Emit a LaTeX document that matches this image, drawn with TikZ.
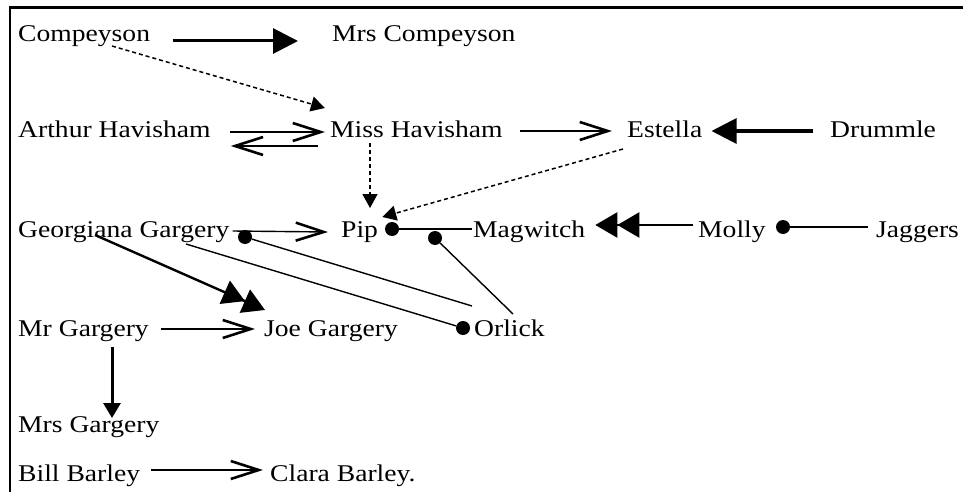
\documentclass[tikz,border=0pt]{standalone}
\usepackage{fontspec}
\setmainfont{Liberation Serif}[FakeStretch=1.15]
\usetikzlibrary{arrows.meta,calc}

\begin{document}
\begin{tikzpicture}[x=1pt,y=-1pt,
    lbl/.style={anchor=base west,inner sep=0pt,font=\fontsize{24}{28}\selectfont},
    dot/.style={circle,fill=black,inner sep=0pt,minimum size=14pt},
    thin/.style={line width=1.4pt},
    open/.style={thin,-{Straight Barb[length=28pt,width=18pt,line width=2.6pt]}},
    heavy/.style={line width=3pt,-{Triangle[length=25pt,width=25pt]}},
    hint/.style={line width=1.5pt,dashed,dash pattern=on 4pt off 3pt,-{Triangle[length=14pt,width=15pt]}},
    twin/.style={line width=2.4pt,-{Triangle[length=22pt,width=25pt]Triangle[length=22pt,width=25pt]}}]
    \useasboundingbox (0,0) rectangle (963,492);
    \draw[line width=2.5pt] (963,7.5) -- (10,7.5) -- (10,492);

    \node (comp) at (18,42) [lbl] {Compeyson};
    \node (mrscomp) at (332,42) [lbl] {Mrs Compeyson};
    \node (arthur) at (18,138) [lbl] {Arthur Havisham};
    \node (missh) at (330,138) [lbl] {Miss Havisham};
    \node (estella) at (627,138) [lbl] {Estella};
    \node (drummle) at (830,138) [lbl] {Drummle};
    \node (georgiana) at (18,237) [lbl] {Georgiana Gargery};
    \node (pip) at (341,237) [lbl] {Pip};
    \node (magwitch) at (473,237) [lbl] {Magwitch};
    \node (molly) at (698,237) [lbl] {Molly};
    \node (jaggers) at (876,237) [lbl] {Jaggers};
    \node (mrgargery) at (18,336) [lbl] {Mr Gargery};
    \node (joe) at (264,336) [lbl] {Joe Gargery};
    \node (orlick) at (474,336) [lbl] {Orlick};
    \node (mrsgargery) at (18,432) [lbl] {Mrs Gargery};
    \node (bill) at (18,481) [lbl] {Bill Barley};
    \node (clara) at (270,481) [lbl] {Clara Barley.};

    \node (gdot) at (245,237) [dot] {};
    \node (pdot) at (392,229) [dot] {};
    \node (mdot) at (435,238) [dot] {};
    \node (odot) at (463,328) [dot] {};
    \node (jdot) at (783,227) [dot] {};
    \coordinate (gend) at (472,306);

    \draw[heavy] ($(comp.base east)+(23,-1)$) -- ($(mrscomp.base west)+(-34,-1)$);
    \draw[hint] ($(comp.base west)+(94,4)$) -- ($(missh.base west)+(-5,-30)$);
    \draw[open] ($(arthur.base east)+(19,-6)$) -- ($(missh.base west)+(-5,-6)$);
    \draw[open] ($(missh.base west)+(-12,8)$) -- ($(arthur.base east)+(20,8)$);
    \draw[open] ($(missh.base east)+(17,-7)$) -- ($(estella.base west)+(-15,-7)$);
    \draw[heavy] ($(drummle.base west)+(-17,-7)$) -- ($(estella.base east)+(9,-7)$);
    \draw[hint] ($(missh.base west)+(40,5)$) -- ($(pip.base west)+(29,-29)$);
    \draw[hint] ($(estella.base west)+(-4,11)$) -- ($(pip.base east)+(4,-20)$);

    \draw[open] ($(georgiana.base east)+(3,-6)$) -- ($(pip.base west)+(-13,-5)$);
    \draw[thin] (gdot) -- (gend);
    \draw[thin] ($(georgiana.base west)+(168,7)$) -- (odot);
    \draw[thin] (pdot) -- ($(magwitch.base west)+(-1,-8)$);
    \draw[thin] (mdot) -- ($(orlick.base west)+(39,-22)$);
    \draw[twin] ($(molly.base west)+(-5,-12)$) -- ($(magwitch.base east)+(10,-12)$);
    \draw[thin] (jdot) -- ($(jaggers.base west)+(-8,-10)$);
    \draw[twin] ($(georgiana.base west)+(77,-2)$) -- ($(joe.base west)+(1,-26)$);

    \draw[open] ($(mrgargery.base east)+(12,-7)$) -- ($(joe.base west)+(-9,-7)$);
    \draw[line width=3pt,-{Triangle[length=15pt,width=17pt]}] ($(mrgargery.base west)+(94,11)$) -- ($(mrsgargery.base west)+(94,-14)$);
    \draw[open] ($(bill.base east)+(11,-11)$) -- ($(clara.base west)+(-7,-11)$);
\end{tikzpicture}
\end{document}
